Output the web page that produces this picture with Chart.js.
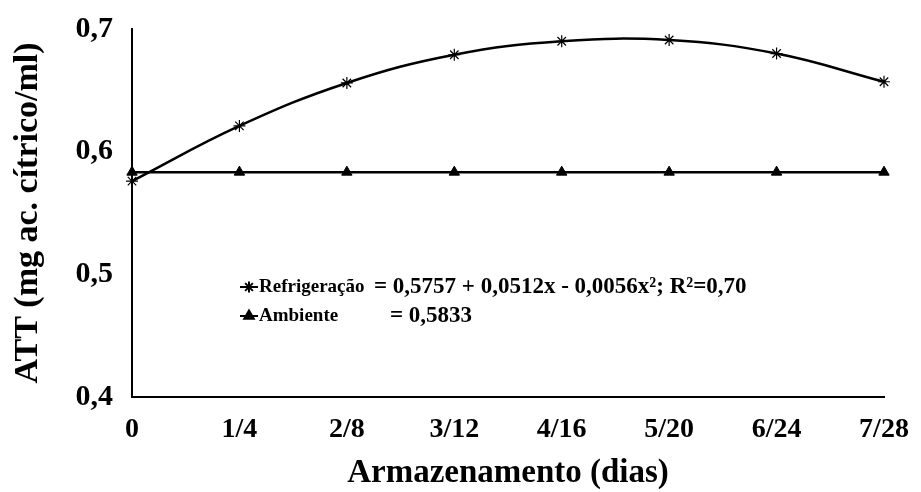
<!DOCTYPE html>
<html>
<head>
<meta charset="utf-8">
<script src="https://cdn.jsdelivr.net/npm/chart.js@4"></script>
<style>
html,body{margin:0;padding:0;background:#fff;}
#wrap{width:921px;height:492px;position:relative;}
</style>
</head>
<body>
<div id="wrap"><canvas id="c" width="921" height="492"></canvas></div>
<script>
const categories = ["0", "1/4", "2/8", "3/12", "4/16", "5/20", "6/24", "7/28"];
const refrigeracao = [0.576, 0.621, 0.656, 0.679, 0.690, 0.691, 0.680, 0.657];
const ambiente = [0.5833, 0.5833, 0.5833, 0.5833, 0.5833, 0.5833, 0.5833, 0.5833];
const yTicks = [0.4, 0.5, 0.6, 0.7];
const yTickLabels = ["0,4", "0,5", "0,6", "0,7"];
const seriesNames = ["Refrigeração", "Ambiente"];
const equations = ["= 0,5757 + 0,0512x - 0,0056x²; R²=0,70", "= 0,5833"];
const xTitle = "Armazenamento (dias)";
const yTitle = "ATT (mg ac. cítrico/ml)";

const FONT = "'Liberation Serif', 'Times New Roman', serif";

const legendPlugin = {
  id: 'insideLegend',
  afterDraw(chart) {
    const ctx = chart.ctx;
    const rows = [
      {ds: 0, y: 287, eqX: 374},
      {ds: 1, y: 316, eqX: 390}
    ];
    ctx.save();
    ctx.fillStyle = '#000';
    ctx.textBaseline = 'middle';
    rows.forEach((r) => {
      ctx.strokeStyle = '#000';
      ctx.lineWidth = 2;
      ctx.beginPath();
      ctx.moveTo(240, r.y);
      ctx.lineTo(258, r.y);
      ctx.stroke();
      Chart.helpers.drawPoint(ctx, {
        pointStyle: chart.data.datasets[r.ds].pointStyle,
        radius: 5.5,
        rotation: 0,
        borderWidth: 1.5
      }, 249, r.y);
      ctx.fillStyle = '#000';
      ctx.font = "bold 19px " + FONT;
      ctx.fillText(seriesNames[r.ds], 259, r.y);
      ctx.font = "bold 23px " + FONT;
      ctx.fillText(equations[r.ds], r.eqX, r.y);
    });
    ctx.restore();
  }
};

new Chart(document.getElementById('c'), {
  type: 'line',
  data: {
    labels: categories,
    datasets: [
      {
        label: seriesNames[0],
        data: refrigeracao,
        borderColor: '#000',
        backgroundColor: '#000',
        borderWidth: 2.5,
        pointStyle: 'star',
        pointRadius: 6,
        pointBorderWidth: 1.2,
        pointBorderColor: '#000',
        tension: 0.4
      },
      {
        label: seriesNames[1],
        data: ambiente,
        borderColor: '#000',
        backgroundColor: '#000',
        borderWidth: 2.5,
        pointStyle: 'triangle',
        pointRadius: 6,
        pointBorderWidth: 1,
        tension: 0
      }
    ]
  },
  options: {
    responsive: false,
    animation: false,
    layout: {padding: {top: 18, right: 37, left: 0, bottom: 0}},
    plugins: {legend: {display: false}, tooltip: {enabled: false}},
    scales: {
      x: {
        offset: false,
        grid: {display: false},
        border: {display: true, color: '#000', width: 2},
        ticks: {color: '#000', padding: 8, font: {family: FONT, size: 28, weight: 'bold'}, maxRotation: 0, autoSkip: false},
        title: {display: true, text: xTitle, color: '#000', padding: {top: 0, bottom: 0}, font: {family: FONT, size: 33, weight: 'bold', lineHeight: 1.1}},
        afterFit(s) { s.height = 95; }
      },
      y: {
        min: 0.4, max: 0.7,
        grid: {display: false},
        border: {display: true, color: '#000', width: 2},
        afterBuildTicks(s) { s.ticks = yTicks.map(v => ({value: v})); },
        ticks: {
          color: '#000', padding: 11,
          font: {family: FONT, size: 30, weight: 'bold'},
          callback: (v) => { const i = yTicks.findIndex(t => Math.abs(t - v) < 1e-9); return i >= 0 ? yTickLabels[i] : ''; }
        },
        title: {display: true, text: yTitle, color: '#000', padding: {top: 8, bottom: 0}, font: {family: FONT, size: 34, weight: 'bold', lineHeight: 1.2}},
        afterFit(s) { s.width = 132; }
      }
    }
  },
  plugins: [legendPlugin]
});
</script>
</body>
</html>
